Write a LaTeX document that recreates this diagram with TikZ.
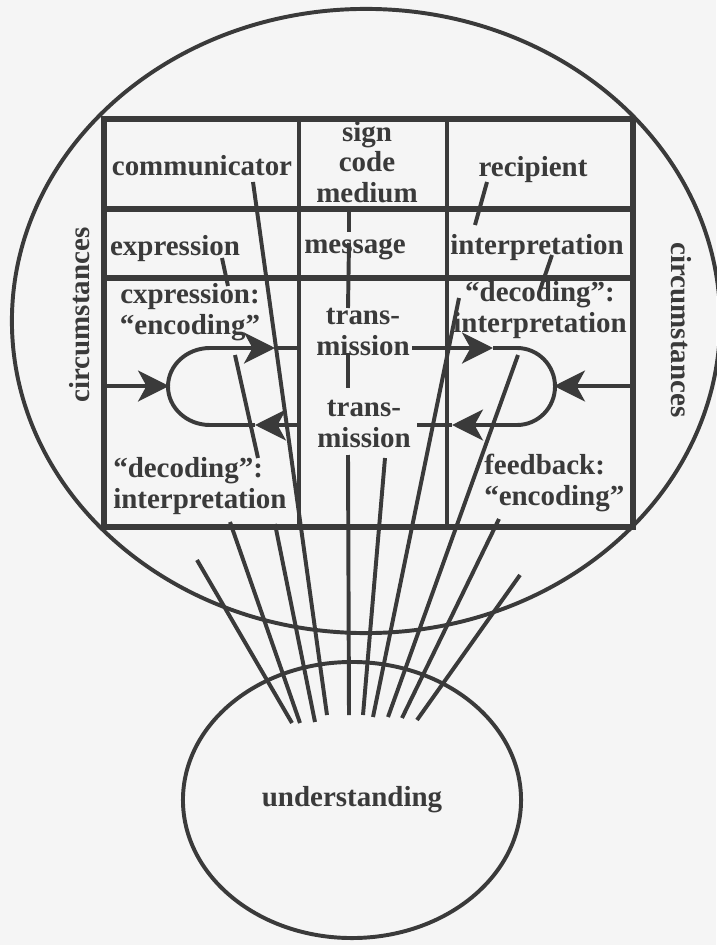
\documentclass[tikz,border=0pt]{standalone}
\usepackage{fontspec}
\setmainfont{Liberation Serif}
\usetikzlibrary{arrows.meta,shapes.geometric}
\definecolor{ink}{RGB}{58,58,58}
\definecolor{paper}{RGB}{245,245,245}

\begin{document}
\begin{tikzpicture}[x=0.025cm, y=-0.025cm,
    lbl/.style={font=\fontsize{20.6}{21.8}\selectfont\bfseries, text=ink, inner sep=0pt},
    ln/.style={draw=ink, line width=2.8pt},
    rowln/.style={draw=ink, line width=3.6pt},
    flow/.style={ln, -{Stealth[length=22pt, width=22pt, inset=6pt]}}]
    \useasboundingbox (0,0) rectangle (716,945);
    \fill[paper] (0,0) rectangle (716,945);

    % Circumstances and understanding
    \node[ellipse, ln, minimum width=17.7cm, minimum height=15.6cm] (world) at (366,321) {};
    \node[ellipse, ln, lbl, minimum width=8.45cm, minimum height=6.9cm] (under) at (352,800) {understanding};
    \node[lbl, rotate=90] (circL) at (80,315) {circumstances};
    \node[lbl, rotate=-90] (circR) at (681,330) {circumstances};

    % Table
    \draw[rowln] (104,119) rectangle (633,527);
    \draw[rowln] (104,209) -- (633,209);
    \draw[rowln] (104,278) -- (633,278);
    \draw[ln] (299,119) -- (299,527);
    \draw[ln] (447,119) -- (447,527);

    \node[lbl] (comm) at (202,166) {communicator};
    \node[lbl, align=center] (sign) at (367,162) {sign\\code\\medium};
    \node[lbl] (recip) at (533,170) {recipient};
    \node[lbl] (expr) at (175,249) {expression};
    \node[lbl] (msg) at (355,249) {message};
    \node[lbl] (interp) at (537,248) {interpretation};
    \node[lbl, align=center] (enc) at (190,312) {cxpression:\\“encoding”};
    \node[lbl, align=center] (trans1) at (363,332) {trans-\\mission};
    \node[lbl, align=center] (decR) at (540,310) {“decoding”:\\interpretation};
    \node[lbl, align=center] (trans2) at (364,424) {trans-\\mission};
    \node[lbl, align=left, anchor=west] (dec) at (113,486) {“decoding”:\\interpretation};
    \node[lbl, align=left, anchor=west] (feedb) at (484,483) {feedback:\\“encoding”};

    % Left loop
    \coordinate (inL) at (104,386);
    \coordinate (loopL) at (169,386);
    \coordinate (upL) at (210,348);
    \coordinate (lowL) at (210,425);
    \coordinate (upLa) at (275,348);
    \coordinate (upLb) at (299,348);
    \coordinate (lowLa) at (255,425);
    \coordinate (lowLb) at (299,425);
    \draw[flow] (inL) -- (loopL);
    \draw[ln] (upL) arc[start angle=270, end angle=90, x radius=42, y radius=38.5];
    \draw[flow] (upL) -- (upLa);
    \draw[ln] (upLa) -- (upLb);
    \draw[flow] (lowLb) -- (lowLa);
    \draw[ln] (lowLa) -- (lowL);

    % Right loop
    \coordinate (inR) at (633,386);
    \coordinate (loopR) at (554,386);
    \coordinate (upR) at (517,348);
    \coordinate (lowR) at (517,425);
    \coordinate (upRa) at (412,348);
    \coordinate (upRb) at (493,348);
    \coordinate (lowRa) at (452,425);
    \coordinate (lowRb) at (417,425);
    \draw[flow] (inR) -- (loopR);
    \draw[ln] (upR) arc[start angle=270, end angle=450, x radius=38, y radius=38.5];
    \draw[flow] (upRa) -- (upRb);
    \draw[ln] (upRb) -- (upR);
    \draw[flow] (lowR) -- (lowRa);
    \draw[ln] (lowRa) -- (lowRb);

    % Links between cells
    \coordinate (exA) at (222,258);
    \coordinate (exB) at (228,286);
    \coordinate (mdA) at (349,212);
    \coordinate (mdB) at (349,232);
    \coordinate (msA) at (349,243);
    \coordinate (msB) at (348,308);
    \coordinate (miA) at (348,353);
    \coordinate (miB) at (348,388);
    \coordinate (rcA) at (487,182);
    \coordinate (rcB) at (475,225);
    \coordinate (ipA) at (552,255);
    \coordinate (ipB) at (540,290);
    \coordinate (edA) at (235,355);
    \coordinate (edB) at (258,458);
    \draw[ln] (exA) -- (exB);
    \draw[ln] (mdA) -- (mdB);
    \draw[ln] (msA) -- (msB);
    \draw[ln] (miA) -- (miB);
    \draw[ln] (rcA) -- (rcB);
    \draw[ln] (ipA) -- (ipB);
    \draw[ln] (edA) -- (edB);

    % Fan into understanding
    \coordinate (fa) at (197,560);
    \coordinate (fb) at (230,522);
    \coordinate (fc) at (275,524);
    \coordinate (fd) at (253,182);
    \coordinate (fe) at (348,455);
    \coordinate (ff) at (385,458);
    \coordinate (fg) at (459,298);
    \coordinate (fh) at (518,355);
    \coordinate (fi) at (499,519);
    \coordinate (fj) at (520,575);
    \coordinate (ua) at (292,723);
    \coordinate (ub) at (300,723);
    \coordinate (uc) at (315,722);
    \coordinate (ud) at (327,715);
    \coordinate (ue) at (349,715);
    \coordinate (uf) at (363,715);
    \coordinate (ug) at (373,717);
    \coordinate (uh) at (388,717);
    \coordinate (ui) at (402,718);
    \coordinate (uj) at (417,720);
    \draw[ln] (fa) -- (ua);
    \draw[ln] (fb) -- (ub);
    \draw[ln] (fc) -- (uc);
    \draw[ln] (fd) -- (ud);
    \draw[ln] (fe) -- (ue);
    \draw[ln] (ff) -- (uf);
    \draw[ln] (fg) -- (ug);
    \draw[ln] (fh) -- (uh);
    \draw[ln] (fi) -- (ui);
    \draw[ln] (fj) -- (uj);
\end{tikzpicture}
\end{document}
